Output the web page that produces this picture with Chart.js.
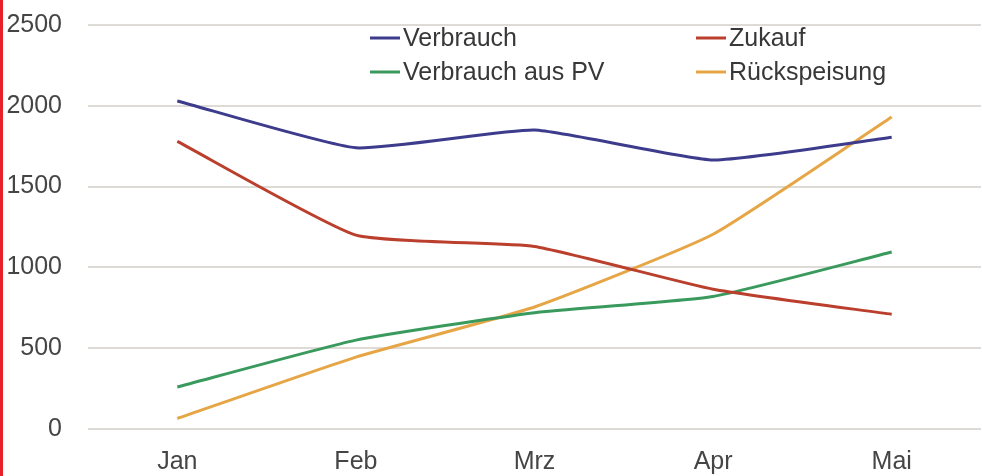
<!DOCTYPE html>
<html>
<head>
<meta charset="utf-8">
<script src="https://cdn.jsdelivr.net/npm/chart.js@4"></script>
<style>
  html, body { margin: 0; padding: 0; background: #ffffff; }
  #wrap { position: relative; width: 982px; height: 476px; }
  #edge { position: absolute; left: 0; top: 0; width: 3px; height: 476px; background: #e8202a; }
</style>
</head>
<body>
<div id="wrap">
  <canvas id="c" width="982" height="476"></canvas>
  <div id="edge"></div>
</div>
<script>
const categories = ["Jan", "Feb", "Mrz", "Apr", "Mai"];
const verbrauch = [2030, 1740, 1850, 1665, 1805];
const zukauf = [1780, 1200, 1130, 865, 710];
const verbrauchAusPV = [260, 550, 720, 820, 1095];
const rueckspeisung = [65, 445, 755, 1205, 1930];
const yTicks = [0, 500, 1000, 1500, 2000, 2500];

const FONT = "'Liberation Sans', Arial, sans-serif";

const legendPlugin = {
  id: 'gridLegend',
  afterDraw(chart) {
    const ctx = chart.ctx;
    const cols = [370, 696];
    const rows = [38, 72];
    ctx.save();
    ctx.font = "25px " + FONT;
    ctx.textBaseline = 'middle';
    ctx.textAlign = 'left';
    chart.data.datasets.forEach((ds, i) => {
      const x = cols[i % 2];
      const y = rows[Math.floor(i / 2)];
      ctx.strokeStyle = ds.borderColor;
      ctx.lineWidth = 3;
      ctx.beginPath();
      ctx.moveTo(x, y);
      ctx.lineTo(x + 30, y);
      ctx.stroke();
      ctx.fillStyle = '#383838';
      ctx.fillText(ds.label, x + 33, y + 1);
    });
    ctx.restore();
  }
};

new Chart(document.getElementById('c'), {
  type: 'line',
  data: {
    labels: categories,
    datasets: [
      { label: 'Verbrauch', data: verbrauch, borderColor: '#3d3b8c' },
      { label: 'Zukauf', data: zukauf, borderColor: '#bb3f2d' },
      { label: 'Verbrauch aus PV', data: verbrauchAusPV, borderColor: '#3a9a5d' },
      { label: 'Rückspeisung', data: rueckspeisung, borderColor: '#e6a646' }
    ].map(d => Object.assign(d, {
      borderWidth: 3,
      pointRadius: 0,
      fill: false,
      tension: 0.15
    }))
  },
  options: {
    responsive: false,
    animation: false,
    layout: { padding: { top: 25, right: 1, bottom: 0, left: 0 } },
    plugins: {
      legend: { display: false },
      tooltip: { enabled: false }
    },
    scales: {
      x: {
        offset: true,
        grid: { display: false, drawTicks: false },
        border: { display: false },
        ticks: { color: '#454545', font: { family: FONT, size: 25 }, padding: 18, maxRotation: 0 },
        afterFit(scale) { scale.height = 47; scale.paddingLeft = 0; scale.paddingRight = 0; }
      },
      y: {
        min: 0,
        max: 2500,
        afterBuildTicks(scale) { scale.ticks = yTicks.map(v => ({ value: v })); },
        grid: { color: '#dedbd7', lineWidth: 2, drawTicks: false },
        border: { display: false },
        ticks: {
          color: '#454545',
          font: { family: FONT, size: 25 },
          padding: 26,
          callback: (v) => String(v)
        },
        afterFit(scale) { scale.width = 88; scale.paddingTop = 0; scale.paddingBottom = 0; }
      }
    }
  },
  plugins: [legendPlugin]
});
</script>
</body>
</html>
